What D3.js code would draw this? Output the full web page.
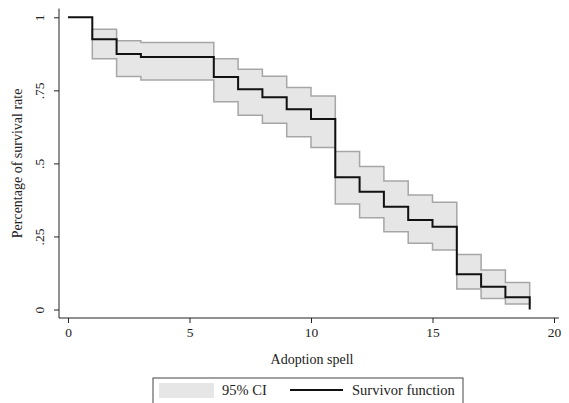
<!DOCTYPE html>
<html>
<head>
<meta charset="utf-8">
<script src="https://cdn.jsdelivr.net/npm/d3@7"></script>
<style>
  body { margin: 0; background: #fff; }
  text { font-family: "Liberation Serif", "DejaVu Serif", serif; fill: #222; }
</style>
</head>
<body>
<div id="chart"></div>
<script>
const WIDTH = 569;
const HEIGHT = 403;

// survivor function, value holds from time t until the next step
const times    = [0, 1, 2, 3, 6, 7, 8, 9, 10, 11, 12, 13, 14, 15, 16, 17, 18, 19];
const survival = [1, 0.925, 0.874, 0.864, 0.796, 0.754, 0.726, 0.685, 0.652, 0.453, 0.403, 0.352, 0.306, 0.283, 0.121, 0.078, 0.042, 0];

// 95% confidence band
const ciTimes = [1, 2, 3, 6, 7, 8, 9, 10, 11, 12, 13, 14, 15, 16, 17, 18, 19];
const ciUpper = [0.959, 0.920, 0.914, 0.858, 0.822, 0.798, 0.760, 0.731, 0.541, 0.489, 0.440, 0.392, 0.367, 0.188, 0.135, 0.092, 0.092];
const ciLower = [0.858, 0.797, 0.785, 0.711, 0.665, 0.637, 0.591, 0.554, 0.361, 0.314, 0.266, 0.227, 0.204, 0.070, 0.038, 0.019, 0.019];

const xTicks = [0, 5, 10, 15, 20];
const yTicks = [0, 0.25, 0.5, 0.75, 1];
const yTickLabels = ["0", ".25", ".5", ".75", "1"];

let svg = d3.select("#chart")
    .append("svg")
    .attr("width", WIDTH)
    .attr("height", HEIGHT);

let x = d3.scaleLinear().domain([0, 20]).range([68, 554]);
let y = d3.scaleLinear().domain([0, 1]).range([309.5, 17.3]);

const axisX = 59;
const axisY = 318;

// confidence band
let band = ciTimes.map((t, i) => ({ t: t, lo: ciLower[i], hi: ciUpper[i] }));

let area = d3.area()
    .curve(d3.curveStepAfter)
    .x(d => x(d.t))
    .y0(d => y(d.lo))
    .y1(d => y(d.hi));

svg.append("path")
    .datum(band)
    .attr("d", area)
    .attr("fill", "#e6e6e6")
    .attr("stroke", "#a6a6a6")
    .attr("stroke-width", 1.5);

// survivor line
let line = d3.line()
    .curve(d3.curveStepAfter)
    .x((d, i) => x(times[i]))
    .y(d => y(d));

svg.append("path")
    .datum(survival)
    .attr("d", line)
    .attr("fill", "none")
    .attr("stroke", "#111")
    .attr("stroke-width", 2);

// y axis
let yAxis = svg.append("g")
    .attr("transform", `translate(${axisX},0)`)
    .call(d3.axisLeft(y).tickValues(yTicks).tickSize(5).tickFormat((d, i) => yTickLabels[i]));
yAxis.select(".domain").remove();
yAxis.selectAll(".tick line").attr("stroke", "#222");
yAxis.selectAll(".tick text")
    .attr("x", 0)
    .attr("dy", null)
    .attr("transform", "translate(-18,0) rotate(-90)")
    .attr("text-anchor", "middle")
    .attr("dominant-baseline", "middle")
    .attr("fill", "#333")
    .style("font-size", "13.5px")
    .style("font-family", "Liberation Serif, serif");

svg.append("line")
    .attr("x1", axisX).attr("x2", axisX)
    .attr("y1", y(1.03)).attr("y2", axisY)
    .attr("stroke", "#222");

// x axis
let xAxis = svg.append("g")
    .attr("transform", `translate(0,${axisY})`)
    .call(d3.axisBottom(x).tickValues(xTicks).tickSize(5));
xAxis.select(".domain").remove();
xAxis.selectAll(".tick line").attr("stroke", "#222");
xAxis.selectAll(".tick text")
    .attr("y", 9)
    .attr("fill", "#333")
    .style("font-size", "13.5px")
    .style("font-family", "Liberation Serif, serif");

svg.append("line")
    .attr("x1", axisX).attr("x2", x(20.2))
    .attr("y1", axisY).attr("y2", axisY)
    .attr("stroke", "#222");

// axis titles
svg.append("text")
    .attr("x", x(10) + 1)
    .attr("y", 364)
    .attr("text-anchor", "middle")
    .style("font-size", "14px")
    .text("Adoption spell");

svg.append("text")
    .attr("transform", `translate(22,${y(0.5)}) rotate(-90)`)
    .attr("text-anchor", "middle")
    .style("font-size", "14px")
    .text("Percentage of survival rate");

// legend
let legend = svg.append("g");

legend.append("rect")
    .attr("x", 153).attr("y", 378)
    .attr("width", 310).attr("height", 30)
    .attr("fill", "#fff")
    .attr("stroke", "#444");

legend.append("rect")
    .attr("x", 159).attr("y", 383)
    .attr("width", 55).attr("height", 15)
    .attr("fill", "#e6e6e6");

legend.append("text")
    .attr("x", 222).attr("y", 395)
    .style("font-size", "14.5px")
    .text("95% CI");

legend.append("line")
    .attr("x1", 290).attr("x2", 343)
    .attr("y1", 390).attr("y2", 390)
    .attr("stroke", "#111")
    .attr("stroke-width", 2);

legend.append("text")
    .attr("x", 352).attr("y", 395)
    .style("font-size", "14.5px")
    .text("Survivor function");
</script>
</body>
</html>
